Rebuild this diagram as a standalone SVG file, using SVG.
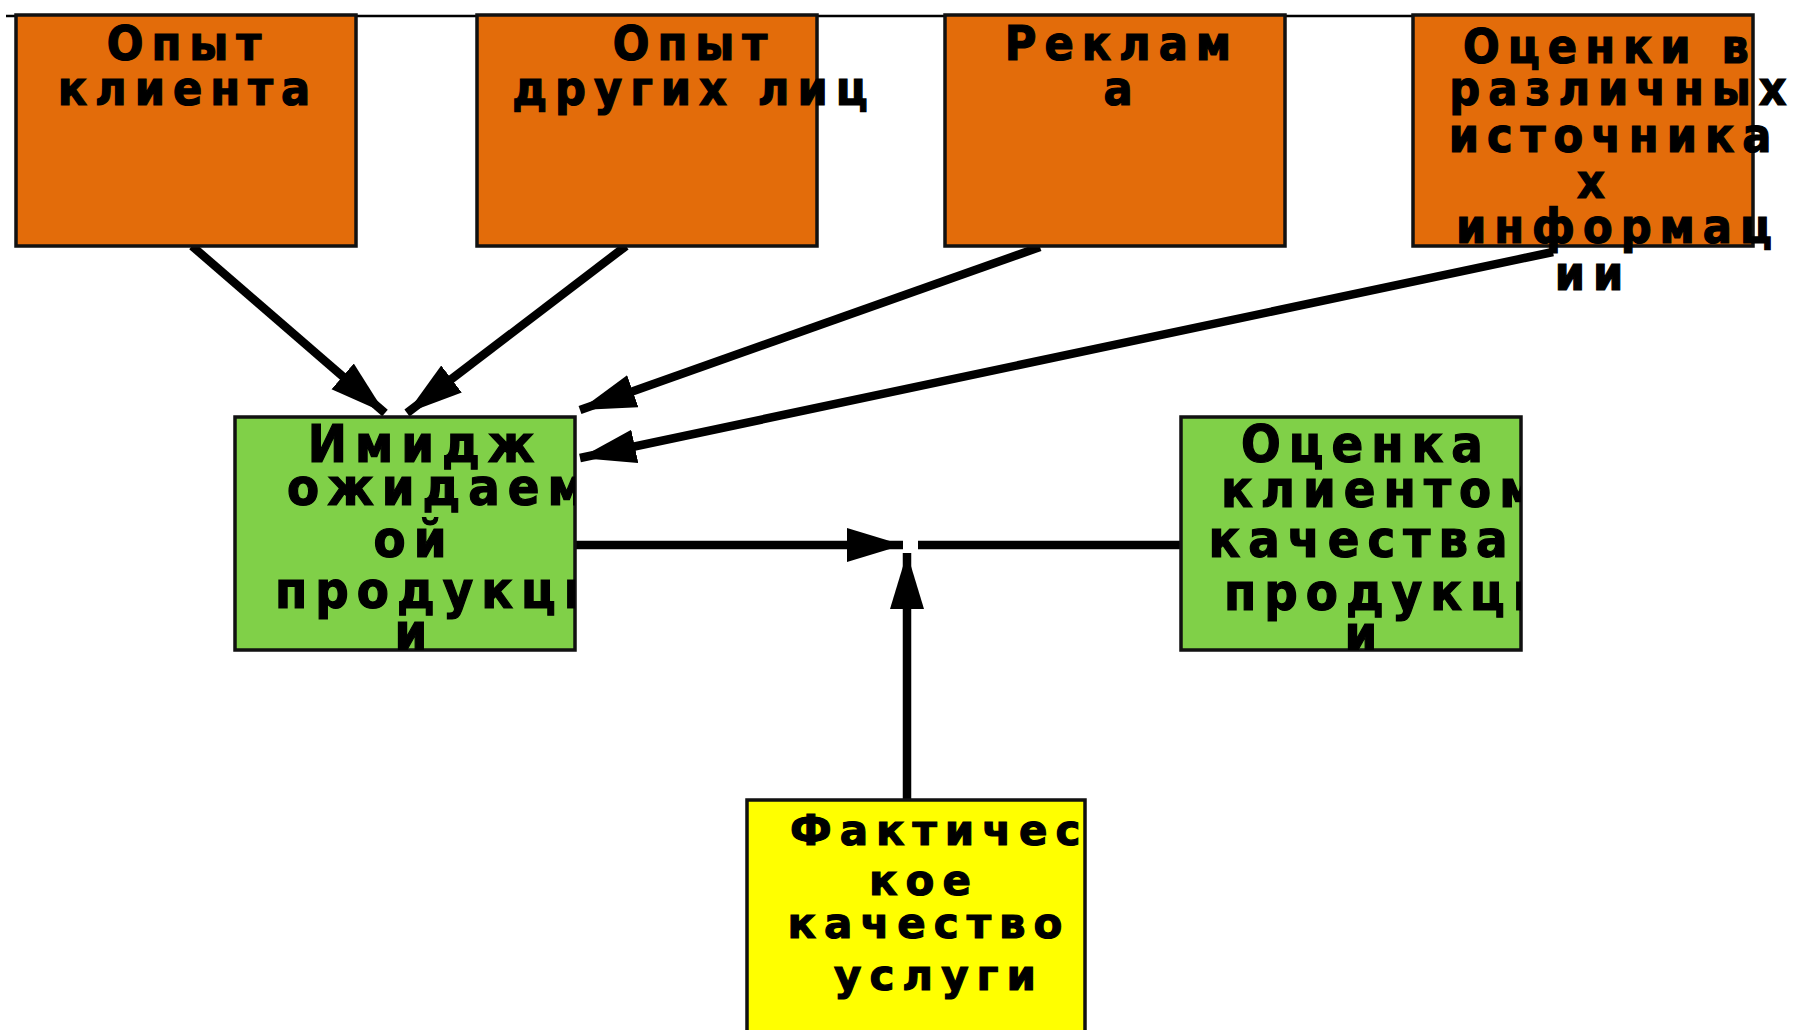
<svg xmlns="http://www.w3.org/2000/svg" width="1795" height="1030" viewBox="0 0 1795 1030">
<style>
.box{stroke:#111;stroke-width:3.5}
.or{fill:#E36C0A}
.gr{fill:#80D048}
.ye{fill:#FFFF00}
text{font-family:"DejaVu Sans","Liberation Sans",sans-serif;font-weight:bold;fill:#000;stroke:#000;stroke-width:1.2;text-anchor:middle}
.o{font-family:"DejaVu Sans Condensed","DejaVu Sans",sans-serif;font-stretch:condensed;font-size:48px;letter-spacing:8px}
.g{font-family:"DejaVu Sans Condensed","DejaVu Sans",sans-serif;font-stretch:condensed;font-size:52px;letter-spacing:8px}
.y{font-size:42px;letter-spacing:8px}
.s{text-anchor:start}
.c{stroke:#000;stroke-width:8.5;fill:none}
</style>
<defs>
<marker id="ah" markerUnits="userSpaceOnUse" markerWidth="60" markerHeight="40" refX="56" refY="17" orient="auto">
<path d="M0,0 L56,17 L0,34 Z" fill="#000"/>
</marker>
<clipPath id="cg1"><rect x="235" y="417" width="340" height="233"/></clipPath>
<clipPath id="cg2"><rect x="1181" y="417" width="340" height="233"/></clipPath>
<clipPath id="cy"><rect x="747" y="800" width="338" height="230"/></clipPath>
</defs>
<rect width="1795" height="1030" fill="#fff"/>
<line x1="6" y1="16" x2="1413" y2="16" stroke="#000" stroke-width="2.5"/>
<g id="connectors">
<line class="c" x1="192" y1="246" x2="385" y2="413" marker-end="url(#ah)"/>
<line class="c" x1="626" y1="246" x2="407" y2="413" marker-end="url(#ah)"/>
<line class="c" x1="1040" y1="247" x2="580" y2="410" marker-end="url(#ah)"/>
<line class="c" x1="1553" y1="252" x2="580" y2="458" marker-end="url(#ah)"/>
<line class="c" x1="575" y1="545" x2="903" y2="545" marker-end="url(#ah)"/>
<line class="c" x1="918" y1="545" x2="1181" y2="545"/>
<line class="c" x1="907" y1="800" x2="907" y2="553" marker-end="url(#ah)"/>
</g>
<g id="n1">
<rect class="box or" x="16" y="15" width="340" height="231"/>
<text class="o" x="188" y="60">Опыт</text>
<text class="o" x="188" y="105">клиента</text>
</g>
<g id="n2">
<rect class="box or" x="477" y="15" width="340" height="231"/>
<text class="o" x="694" y="60">Опыт</text>
<text class="o" x="694" y="105">других лиц</text>
</g>
<g id="n3">
<rect class="box or" x="945" y="15" width="340" height="231"/>
<text class="o" x="1122" y="60">Реклам</text>
<text class="o" x="1122" y="105">а</text>
</g>
<g id="n4">
<rect class="box or" x="1413" y="15" width="340" height="231"/>
<text class="o" x="1610" y="63">Оценки в</text>
<text class="o" x="1622" y="105">различных</text>
<text class="o" x="1614" y="152">источника</text>
<text class="o" x="1595" y="198">х</text>
<text class="o" x="1618" y="243">информац</text>
<text class="o" x="1593" y="290">ии</text>
</g>
<g id="n5">
<rect class="box gr" x="235" y="417" width="340" height="233"/>
<g clip-path="url(#cg1)">
<text class="g" x="425" y="462">Имидж</text>
<text class="g s" x="287" y="505">ожидаем</text>
<text class="g" x="414" y="557">ой</text>
<text class="g s" x="275" y="608">продукци</text>
<text class="g" x="415" y="650">и</text>
</g>
</g>
<g id="n6">
<rect class="box gr" x="1181" y="417" width="340" height="233"/>
<g clip-path="url(#cg2)">
<text class="g" x="1366" y="462">Оценка</text>
<text class="g s" x="1221" y="507">клиентом</text>
<text class="g" x="1362" y="557">качества</text>
<text class="g s" x="1224" y="610">продукци</text>
<text class="g" x="1365" y="652">и</text>
</g>
</g>
<g id="n7">
<rect class="box ye" x="747" y="800" width="338" height="232"/>
<g clip-path="url(#cy)">
<text class="y s" x="790" y="845">Фактичес</text>
<text class="y" x="924" y="895">кое</text>
<text class="y" x="929" y="938">качество</text>
<text class="y" x="939" y="990">услуги</text>
</g>
</g>
</svg>
